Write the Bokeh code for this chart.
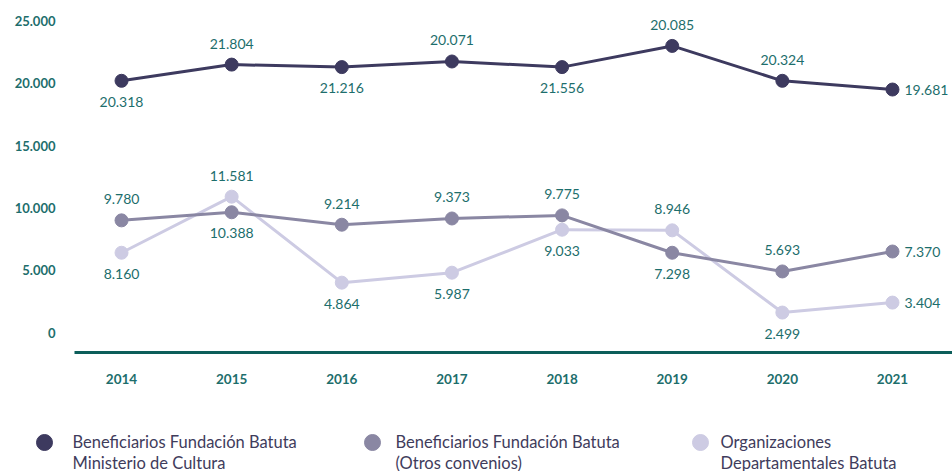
from bokeh.plotting import figure
from bokeh.layouts import column
from bokeh.models import FixedTicker, Range1d, ColumnDataSource
from bokeh.core.properties import value
from bokeh.embed import file_html
from bokeh.resources import INLINE

# ---------------- data ----------------
years = [2014, 2015, 2016, 2017, 2018, 2019, 2020, 2021]
year_labels = ["2014", "2015", "2016", "2017", "2018", "2019", "2020", "2021"]

series_names = [
    ["Beneficiarios Fundación Batuta", "Ministerio de Cultura"],
    ["Beneficiarios Fundación Batuta", "(Otros convenios)"],
    ["Organizaciones", "Departamentales Batuta"],
]

# plotted positions
mincultura = [20200, 21500, 21300, 21750, 21300, 23000, 20200, 19500]
otros_convenios = [9000, 9650, 8650, 9150, 9400, 6400, 4900, 6500]
organizaciones = [6400, 10900, 4000, 4800, 8250, 8200, 1600, 2400]

# printed value labels
mincultura_labels = ["20.318", "21.804", "21.216", "20.071", "21.556", "20.085", "20.324", "19.681"]
otros_labels = ["9.780", "10.388", "9.214", "9.373", "9.775", "7.298", "5.693", "7.370"]
organizaciones_labels = ["8.160", "11.581", "4.864", "5.987", "9.033", "8.946", "2.499", "3.404"]

# where each printed label sits relative to its point
mincultura_place = ["below", "above", "below", "above", "below", "above", "above", "right"]
otros_place = ["above", "below", "above", "above", "above", "below", "above", "right"]
organizaciones_place = ["below", "above", "below", "below", "below", "above", "below", "right"]

y_ticks = [0, 5000, 10000, 15000, 20000, 25000]
y_tick_labels = ["0", "5.000", "10.000", "15.000", "20.000", "25.000"]

# ---------------- style ----------------
COLORS = ["#3d3a5f", "#8a87a3", "#cdcbe3"]
TEAL = "#1d6e6c"
AXIS_TEAL = "#0c5e5a"
LEGEND_TEXT = "#3f3c5c"
FONT = "Lato"
LEFT = 74
W = 952

p = figure(
    width=W, height=403,
    x_range=Range1d(2013.573, 2021.545),
    y_range=Range1d(-1605, 26003),
    min_border_left=LEFT, min_border_right=0, min_border_top=8, min_border_bottom=51,
    output_backend="svg", toolbar_location=None,
)
p.frame_align = False
p.outline_line_color = None
p.xgrid.grid_line_color = None
p.ygrid.grid_line_color = None

# y axis
p.yaxis.ticker = FixedTicker(ticks=y_ticks)
p.yaxis.major_label_overrides = {t: l for t, l in zip(y_ticks, y_tick_labels)}
p.yaxis.axis_line_color = None
p.yaxis.major_tick_line_color = None
p.yaxis.minor_tick_line_color = None
p.yaxis.major_label_standoff = 13
p.yaxis.major_label_text_color = TEAL
p.yaxis.major_label_text_font = FONT
p.yaxis.major_label_text_font_style = "bold"
p.yaxis.major_label_text_font_size = "13px"

# x axis
p.xaxis.ticker = FixedTicker(ticks=years)
p.xaxis.major_label_overrides = {t: l for t, l in zip(years, year_labels)}
p.xaxis.axis_line_color = AXIS_TEAL
p.xaxis.axis_line_width = 3
p.xaxis.major_tick_line_color = None
p.xaxis.minor_tick_line_color = None
p.xaxis.major_label_standoff = 15
p.xaxis.major_label_text_color = TEAL
p.xaxis.major_label_text_font = FONT
p.xaxis.major_label_text_font_style = "bold"
p.xaxis.major_label_text_font_size = "13.5px"

series = [
    (organizaciones, organizaciones_labels, organizaciones_place, COLORS[2]),
    (otros_convenios, otros_labels, otros_place, COLORS[1]),
    (mincultura, mincultura_labels, mincultura_place, COLORS[0]),
]

for vals, labs, places, col in series:
    p.line(years, vals, line_color=col, line_width=3)
    p.scatter(years, vals, size=13, fill_color=col, line_color=col)

for vals, labs, places, col in series:
    xo, yo, al = [], [], []
    for pl in places:
        if pl == "above":
            xo.append(0); yo.append(-21); al.append("center")
        elif pl == "below":
            xo.append(0); yo.append(21); al.append("center")
        else:
            xo.append(12); yo.append(0); al.append("left")
    src = ColumnDataSource(dict(x=years, y=vals, t=labs, xo=xo, yo=yo, al=al))
    p.text(x="x", y="y", text="t", x_offset="xo", y_offset="yo", text_align="al",
           text_baseline="middle", text_font=value(FONT), text_font_size="14px",
           text_color=TEAL, source=src)

# ---------------- legend ----------------
LEG_H = 68
leg = figure(
    width=W, height=LEG_H,
    x_range=Range1d(0, W), y_range=Range1d(0, LEG_H),
    min_border_left=0, min_border_right=0, min_border_top=0, min_border_bottom=0,
    x_axis_location=None, y_axis_location=None,
    output_backend="svg", toolbar_location=None,
)
leg.frame_align = False
leg.outline_line_color = None
leg.xgrid.grid_line_color = None
leg.ygrid.grid_line_color = None

marker_x = [44, 372, 700]
text_x = [72, 395, 720]
leg.scatter(marker_x, [29, 29, 29], size=16, fill_color=COLORS, line_color=COLORS)
line1 = [n[0] for n in series_names]
line2 = [n[1] for n in series_names]
leg.text(text_x, [30] * 3, text=line1, text_baseline="middle", text_align="left",
         text_font=value(FONT), text_font_size="16.5px", text_color=LEGEND_TEXT)
leg.text(text_x, [9] * 3, text=line2, text_baseline="middle", text_align="left",
         text_font=value(FONT), text_font_size="16.5px", text_color=LEGEND_TEXT)

layout = column(p, leg, spacing=0)
open("out.html", "w").write(file_html(layout, INLINE))
